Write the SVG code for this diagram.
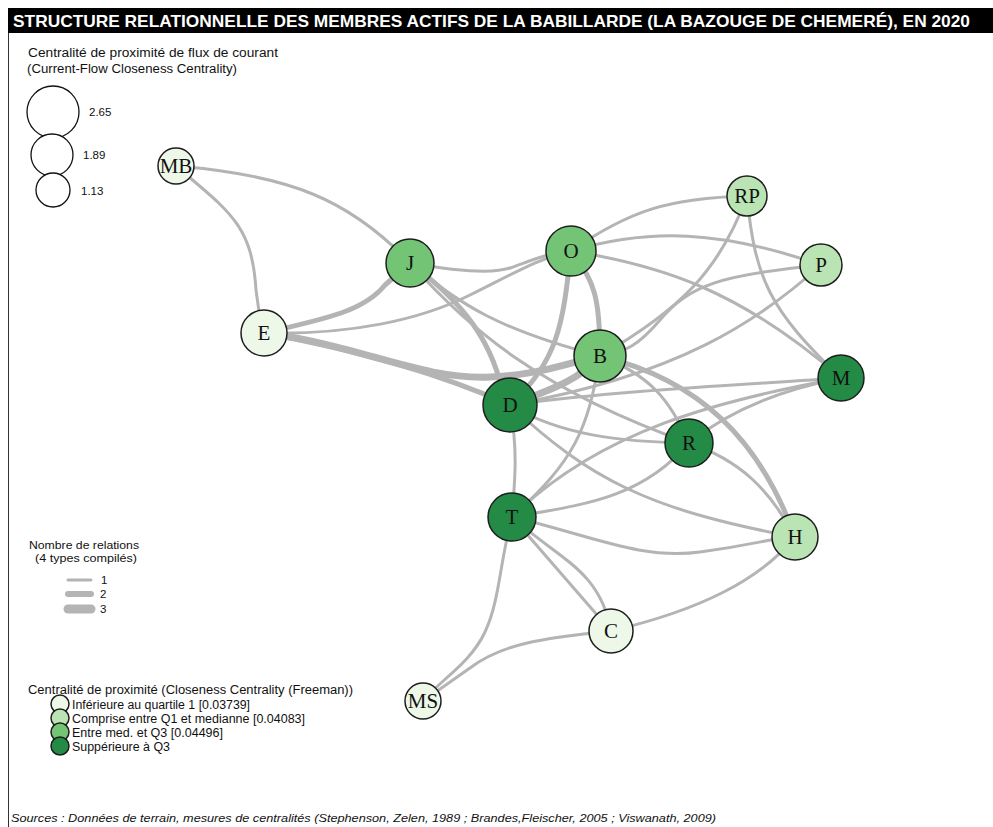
<svg xmlns="http://www.w3.org/2000/svg" width="993" height="827" viewBox="0 0 993 827">
<style>
.e{fill:none;stroke:#b4b4b4;stroke-width:3;stroke-linecap:round}
.w2{stroke-width:5}
.w3{stroke-width:7}
.n{stroke:#1e1e1e;stroke-width:1.5}
.c1{fill:#edf8e9}.c2{fill:#bae4b3}.c3{fill:#74c476}.c4{fill:#238b45}
.nl{font-family:"Liberation Serif","Times New Roman",serif;font-size:21px;fill:#111;text-anchor:middle}
.lg{font-family:"Liberation Sans",Arial,sans-serif;font-size:12.5px;fill:#111}
.sm{font-family:"Liberation Sans",Arial,sans-serif;font-size:11.5px;fill:#111}
</style>
<rect x="0" y="0" width="993" height="827" fill="#ffffff"/>
<rect x="8" y="8" width="985" height="25" fill="#000"/>
<text x="13" y="27" font-family="'Liberation Sans',Arial,sans-serif" font-weight="bold" font-size="16.5" fill="#fff" textLength="957" lengthAdjust="spacingAndGlyphs">STRUCTURE RELATIONNELLE DES MEMBRES ACTIFS DE LA BABILLARDE (LA BAZOUGE DE CHEMERÉ), EN 2020</text>
<line x1="8.5" y1="33" x2="8.5" y2="827" stroke="#333" stroke-width="1"/>

<g id="legend-size">
<text class="lg" x="28" y="57" textLength="250" lengthAdjust="spacingAndGlyphs">Centralité de proximité de flux de courant</text>
<text class="lg" x="27" y="73" textLength="210" lengthAdjust="spacingAndGlyphs">(Current-Flow Closeness Centrality)</text>
<circle cx="53" cy="112" r="26" fill="#fff" stroke="#111" stroke-width="1.3"/>
<circle cx="52" cy="155" r="21" fill="#fff" stroke="#111" stroke-width="1.3"/>
<circle cx="53" cy="190" r="17" fill="#fff" stroke="#111" stroke-width="1.3"/>
<text class="sm" x="89" y="116">2.65</text>
<text class="sm" x="83" y="159">1.89</text>
<text class="sm" x="81" y="195">1.13</text>
</g>

<g id="legend-edges">
<text class="sm" x="29" y="549" textLength="110" lengthAdjust="spacingAndGlyphs">Nombre de relations</text>
<text class="sm" x="35" y="562" textLength="102" lengthAdjust="spacingAndGlyphs">(4 types compilés)</text>
<line x1="68" y1="580" x2="91" y2="580" stroke="#b4b4b4" stroke-width="3" stroke-linecap="round"/>
<line x1="68" y1="594" x2="91" y2="594" stroke="#b4b4b4" stroke-width="6" stroke-linecap="round"/>
<line x1="68" y1="609" x2="91" y2="609" stroke="#b4b4b4" stroke-width="9" stroke-linecap="round"/>
<text class="sm" x="101" y="584">1</text>
<text class="sm" x="100" y="598">2</text>
<text class="sm" x="100" y="613">3</text>
</g>

<g id="legend-colors">
<text class="lg" x="28" y="694" textLength="325" lengthAdjust="spacingAndGlyphs">Centralité de proximité (Closeness Centrality (Freeman))</text>
<circle cx="60" cy="704" r="9" class="n c1"/>
<circle cx="60" cy="718" r="9" class="n c2"/>
<circle cx="60" cy="732" r="9" class="n c3"/>
<circle cx="60" cy="746" r="9" class="n c4"/>
<text class="lg" x="72" y="708.5" textLength="178" lengthAdjust="spacingAndGlyphs">Inférieure au quartile 1 [0.03739]</text>
<text class="lg" x="72" y="722.5" textLength="233" lengthAdjust="spacingAndGlyphs">Comprise entre Q1 et medianne [0.04083]</text>
<text class="lg" x="72" y="736.5" textLength="151" lengthAdjust="spacingAndGlyphs">Entre med. et Q3 [0.04496]</text>
<text class="lg" x="72" y="750.5" textLength="98" lengthAdjust="spacingAndGlyphs">Suppérieure à Q3</text>
</g>

<text x="11" y="822" font-family="'Liberation Sans',Arial,sans-serif" font-style="italic" font-size="11.5" fill="#111" textLength="705" lengthAdjust="spacingAndGlyphs">Sources : Données de terrain, mesures de centralités (Stephenson, Zelen, 1989 ; Brandes,Fleischer, 2005 ; Viswanath, 2009)</text>

<g id="connectors">
<path class="e" d="M176,166 C290,175 350,200 410,263"/>
<path class="e" d="M176,166 C230,212 252,225 256,290 L262,333"/>
<path class="e w2" d="M264,333 C330,318 365,310 385,285 L410,263"/>
<path class="e" d="M264,333 C350,335 420,320 470,295 S540,258 571,251"/>
<path class="e w3" d="M264,333 C360,345 420,380 490,377 C540,375 570,362 600,356"/>
<path class="e w2" d="M264,333 C330,345 420,365 510,405"/>
<path class="e" d="M410,263 C450,270 490,275 510,268 S550,252 571,251"/>
<path class="e w2" d="M410,263 C460,300 495,340 505,405"/>
<path class="e" d="M410,263 C460,305 500,330 600,356"/>
<path class="e" d="M410,263 C470,330 540,390 689,443"/>
<path class="e" d="M571,251 C630,210 670,198 747,196"/>
<path class="e" d="M571,251 C650,228 720,230 821,265"/>
<path class="e" d="M571,251 C660,265 740,290 841,378"/>
<path class="e w2" d="M571,251 C563,320 560,360 510,405"/>
<path class="e w2" d="M571,251 C595,280 600,300 600,356"/>
<path class="e" d="M747,196 C720,270 680,310 600,356"/>
<path class="e" d="M747,196 C755,280 770,310 841,378"/>
<path class="e" d="M821,265 C720,275 690,285 660,320 S620,350 600,356"/>
<path class="e" d="M821,265 C760,320 680,375 510,405"/>
<path class="e w3" d="M510,405 C550,390 580,380 600,356"/>
<path class="e" d="M510,405 C620,390 740,385 841,378"/>
<path class="e" d="M510,405 C560,435 620,442 689,443"/>
<path class="e" d="M510,405 C590,480 650,510 795,537"/>
<path class="e" d="M510,405 C518,450 515,480 512,517"/>
<path class="e" d="M600,356 C650,375 670,400 689,443"/>
<path class="e w2" d="M600,356 C700,380 760,440 795,537"/>
<path class="e" d="M600,356 C588,430 575,460 512,517"/>
<path class="e" d="M841,378 C720,400 600,430 512,517"/>
<path class="e" d="M841,378 C780,390 730,410 689,443"/>
<path class="e" d="M689,443 C740,460 770,490 795,537"/>
<path class="e" d="M689,443 C640,500 580,505 512,517"/>
<path class="e" d="M512,517 C590,535 640,560 700,552 S770,538 795,537"/>
<path class="e" d="M512,517 L611,631"/>
<path class="e" d="M512,517 C560,560 600,570 611,631"/>
<path class="e" d="M512,517 C500,560 500,600 485,632 S440,680 423,701"/>
<path class="e" d="M611,631 C540,638 500,645 470,668 L423,701"/>
<path class="e" d="M795,537 C760,580 700,610 611,631"/>
</g>

<g id="node-MB"><circle cx="176" cy="166" r="18" class="n c1"/><text class="nl" x="176" y="173">MB</text></g>
<g id="node-J"><circle cx="410" cy="263" r="24" class="n c3"/><text class="nl" x="410" y="270">J</text></g>
<g id="node-O"><circle cx="571" cy="251" r="25" class="n c3"/><text class="nl" x="571" y="258">O</text></g>
<g id="node-RP"><circle cx="747" cy="196" r="20" class="n c2"/><text class="nl" x="747" y="203">RP</text></g>
<g id="node-P"><circle cx="821" cy="265" r="21" class="n c2"/><text class="nl" x="821" y="272">P</text></g>
<g id="node-E"><circle cx="264" cy="333" r="23" class="n c1"/><text class="nl" x="264" y="340">E</text></g>
<g id="node-B"><circle cx="600" cy="356" r="26" class="n c3"/><text class="nl" x="600" y="363">B</text></g>
<g id="node-M"><circle cx="841" cy="378" r="23" class="n c4"/><text class="nl" x="841" y="385">M</text></g>
<g id="node-D"><circle cx="510" cy="405" r="27" class="n c4"/><text class="nl" x="510" y="412">D</text></g>
<g id="node-R"><circle cx="689" cy="443" r="24" class="n c4"/><text class="nl" x="689" y="450">R</text></g>
<g id="node-T"><circle cx="512" cy="517" r="24" class="n c4"/><text class="nl" x="512" y="524">T</text></g>
<g id="node-H"><circle cx="795" cy="537" r="23" class="n c2"/><text class="nl" x="795" y="544">H</text></g>
<g id="node-C"><circle cx="611" cy="631" r="22" class="n c1"/><text class="nl" x="611" y="638">C</text></g>
<g id="node-MS"><circle cx="423" cy="701" r="18" class="n c1"/><text class="nl" x="423" y="708">MS</text></g>
</svg>
